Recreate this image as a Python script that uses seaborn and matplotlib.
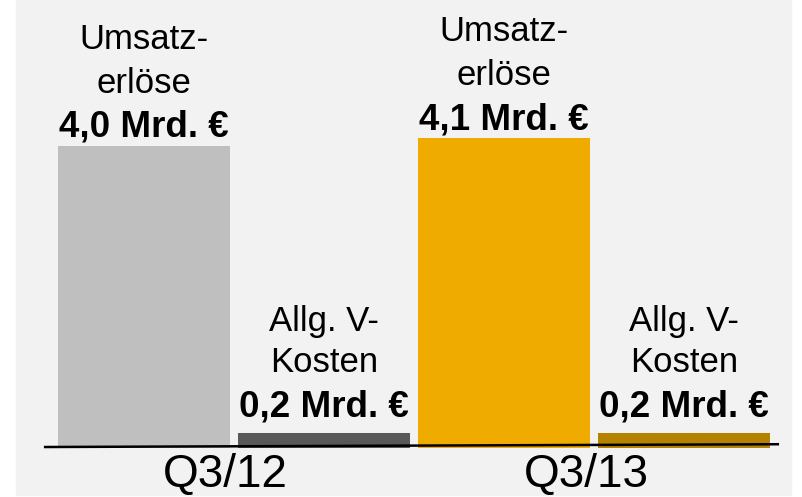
import matplotlib
matplotlib.use("Agg")
import matplotlib.pyplot as plt
import seaborn as sns
from matplotlib.patches import Rectangle

# data
categories = ["Umsatzerlöse Q3/12", "Allg. V-Kosten Q3/12",
              "Umsatzerlöse Q3/13", "Allg. V-Kosten Q3/13"]
values = [4.0, 0.2, 4.1, 0.2]
name_labels = ["Umsatz-\nerlöse", "Allg. V-\nKosten", "Umsatz-\nerlöse", "Allg. V-\nKosten"]
value_labels = ["4,0 Mrd. €", "0,2 Mrd. €", "4,1 Mrd. €", "0,2 Mrd. €"]
quarters = ["Q3/12", "Q3/13"]
quarter_pos = [0.45, 2.46]

colors = ["#bfbfbf", "#595959", "#f0ab00", "#b58200"]

sns.set_theme(style="white")
plt.rcParams["font.family"] = ["Liberation Sans", "DejaVu Sans"]

W, H = 803, 497
fig = plt.figure(figsize=(W / 100, H / 100), dpi=100, facecolor="white")
# light grey panel behind the chart
fig.patches.append(Rectangle((16 / W, 2 / H), 775 / W, 495 / H,
                             transform=fig.transFigure, color="#f2f2f2", zorder=-1))

ax = fig.add_axes([0, 0, 1, 1])
ax.set_zorder(1)
ax.set_facecolor("none")

sns.barplot(x=categories, y=values, hue=categories, palette=colors,
            width=0.955, saturation=1, legend=False, ax=ax, zorder=2,
            linewidth=0, edgecolor="none")

# map data to pixel layout: 180 px per category, 75.5 px per unit
px_x, px_y = 180.0, 75.5
x0, y0 = 144, 448
ax.set_xlim(-x0 / px_x, (W - x0) / px_x)
ax.set_ylim(-(H - y0) / px_y, y0 / px_y)
ax.set_axis_off()

# baseline
ax.plot([-0.556, 3.528], [0.013, 0.05], color="black", lw=1.8, zorder=3,
        solid_capstyle="butt")

for i, v in enumerate(values):
    big = v > 1
    gap = 6.5 if big else 11.5
    ax.annotate(value_labels[i], (i, v), xytext=(0, gap), textcoords="offset points",
                ha="center", va="baseline", fontsize=26.5, fontweight="bold", color="black")
    ax.annotate(name_labels[i], (i, v), xytext=(0, gap + 32), textcoords="offset points",
                ha="center", va="baseline", fontsize=25, color="black",
                linespacing=1.42 if big else 1.33)

for q, p in zip(quarters, quarter_pos):
    ax.text(p, -0.52, q, ha="center", va="baseline", fontsize=33, color="black")

fig.savefig("out.png", dpi=100)
